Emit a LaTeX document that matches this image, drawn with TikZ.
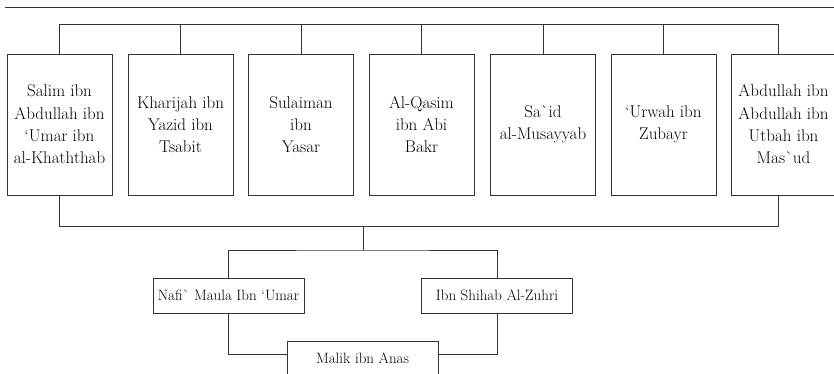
\documentclass[tikz,border=0pt]{standalone}
\usepackage{tikz}

\begin{document}
\begin{tikzpicture}[
            x=1pt, y=-1pt,
            line width=0.8pt,
            line/.style={draw=black!80},
            teacher-node/.style={rectangle,draw=black!80,align=center,inner sep=1pt,
                minimum width=105pt,minimum height=141pt,
                font=\fontsize{17}{22.3}\selectfont},
            student-node/.style={rectangle,draw=black!80,align=center,inner sep=2pt,
                minimum width=151pt,minimum height=35pt,
                font=\fontsize{15}{22.3}\selectfont},
        ]
            \useasboundingbox (0, 0) rectangle (834, 373);

            \draw[line] (5, 7) -- (834, 7);

            \node[teacher-node] (salim) at (59.5, 124.5) {Salim ibn\\Abdullah ibn\\`Umar ibn\\al-Khaththab};
            \node[teacher-node] (kharijah) at (180.5, 124.5) {Kharijah ibn\\Yazid ibn\\Tsabit};
            \node[teacher-node] (sulaiman) at (301, 124.5) {Sulaiman\\ibn\\Yasar};
            \node[teacher-node] (qasim) at (421.5, 124.5) {Al-Qasim\\ibn Abi\\Bakr};
            \node[teacher-node] (said) at (543, 124.5) {Sa\textasciigrave id\\al-Musayyab};
            \node[teacher-node] (urwah) at (663.5, 124.5) {`Urwah ibn\\Zubayr};
            \node[teacher-node] (abdullah) at (783.5, 124.5) {Abdullah ibn\\Abdullah ibn\\Utbah ibn\\Mas\textasciigrave ud};

            \coordinate (top) at (0, 24);
            \coordinate (top-r) at (778, 24);
            \coordinate (bot) at (0, 226);
            \coordinate (bot-r) at (778, 226);
            \coordinate (join) at (363, 226);
            \coordinate (split) at (363, 250);

            \draw[line] (salim.north) -- (salim.north |- top) -- (top-r) -- (top-r |- abdullah.north);
            \draw[line] (kharijah.north) -- (kharijah.north |- top);
            \draw[line] (sulaiman.north) -- (sulaiman.north |- top);
            \draw[line] (qasim.north) -- (qasim.north |- top);
            \draw[line] (said.north) -- (said.north |- top);
            \draw[line] (urwah.north) -- (urwah.north |- top);

            \draw[line] (salim.south) -- (salim.south |- bot) -- (bot-r) -- (bot-r |- abdullah.south);

            \node[student-node] (nafi) at (228.5, 295.5) {Nafi\textasciigrave{} Maula Ibn `Umar};
            \node[student-node] (shihab) at (497, 295.5) {Ibn Shihab Al-Zuhri};
            \node[student-node] (malik) at (362.5, 358.5) {Malik ibn Anas};

            \draw[line] (join) -- (split);
            \draw[line] (nafi.north) |- (split) -| (shihab.north);
            \draw[line] (nafi.south) |- ([yshift=4.5pt]malik.west);
            \draw[line] (shihab.south) |- ([yshift=4.5pt]malik.east);
        \end{tikzpicture}
\end{document}
